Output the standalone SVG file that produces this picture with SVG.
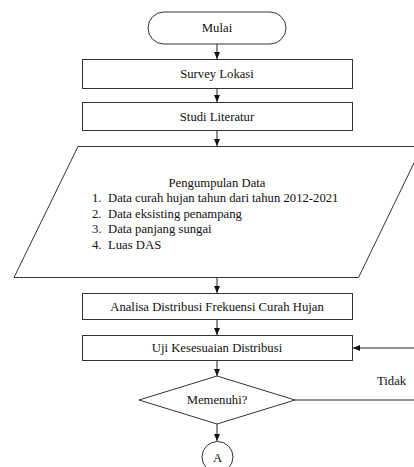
<svg xmlns="http://www.w3.org/2000/svg" width="414" height="467" viewBox="0 0 414 467">
<defs>
<marker id="ah" markerWidth="8" markerHeight="8" refX="7" refY="4" orient="auto" markerUnits="userSpaceOnUse">
<path d="M0,1 L7,4 L0,7 Z" fill="#111"/>
</marker>
<style>
.s{fill:#fff;stroke:#333;stroke-width:1}
.t{font-size:12.7px;fill:#111}
.c{text-anchor:middle}
.l{fill:none;stroke:#222;stroke-width:1}
</style>
</defs>
<rect width="414" height="467" fill="#fff"/>
<g font-family="'Liberation Serif', 'Times New Roman', 'DejaVu Serif', serif">
<g id="connectors">
<line class="l" x1="217" y1="44" x2="217" y2="59" marker-end="url(#ah)"/>
<line class="l" x1="217" y1="88" x2="217" y2="102" marker-end="url(#ah)"/>
<line class="l" x1="217" y1="130" x2="217" y2="146" marker-end="url(#ah)"/>
<line class="l" x1="217" y1="277" x2="217" y2="293" marker-end="url(#ah)"/>
<line class="l" x1="217" y1="319" x2="217" y2="335" marker-end="url(#ah)"/>
<line class="l" x1="217" y1="360" x2="217" y2="376" marker-end="url(#ah)"/>
<line class="l" x1="217" y1="424" x2="217" y2="441" marker-end="url(#ah)"/>
<line class="l" x1="295" y1="400" x2="414" y2="400"/>
<line class="l" x1="414" y1="348" x2="353" y2="348" marker-end="url(#ah)"/>
<text class="t" x="377" y="385">Tidak</text>
</g>
<g id="mulai">
<rect class="s" x="148" y="12" width="138" height="32" rx="16" ry="16"/>
<text class="t c" x="217" y="32">Mulai</text>
</g>
<g id="survey">
<rect class="s" x="82.5" y="59.5" width="270" height="29"/>
<text class="t c" x="217" y="78">Survey Lokasi</text>
</g>
<g id="studi">
<rect class="s" x="82.5" y="102.5" width="270" height="28"/>
<text class="t c" x="217" y="121">Studi Literatur</text>
</g>
<g id="pengumpulan">
<polygon class="s" points="78,146.5 422,146.5 358.5,277.5 14,277.5"/>
<text class="t c" x="217" y="187">Pengumpulan Data</text>
<text class="t" x="92" y="202">1.</text><text class="t" x="108" y="202">Data curah hujan tahun dari tahun 2012-2021</text>
<text class="t" x="92" y="218">2.</text><text class="t" x="108" y="218">Data eksisting penampang</text>
<text class="t" x="92" y="233">3.</text><text class="t" x="108" y="233">Data panjang sungai</text>
<text class="t" x="92" y="249">4.</text><text class="t" x="108" y="249">Luas DAS</text>
</g>
<g id="analisa">
<rect class="s" x="82.5" y="293.5" width="270" height="26"/>
<text class="t c" x="217" y="311">Analisa Distribusi Frekuensi Curah Hujan</text>
</g>
<g id="uji">
<rect class="s" x="82.5" y="335.5" width="270" height="25"/>
<text class="t c" x="217" y="352">Uji Kesesuaian Distribusi</text>
</g>
<g id="memenuhi">
<polygon class="s" points="217,376 295,400 217,424 139,400"/>
<text class="t c" x="217" y="404">Memenuhi?</text>
</g>
<g id="a">
<circle class="s" cx="217.5" cy="457" r="15.5"/>
<text class="t c" x="217.5" y="462">A</text>
</g>
</g>
</svg>
